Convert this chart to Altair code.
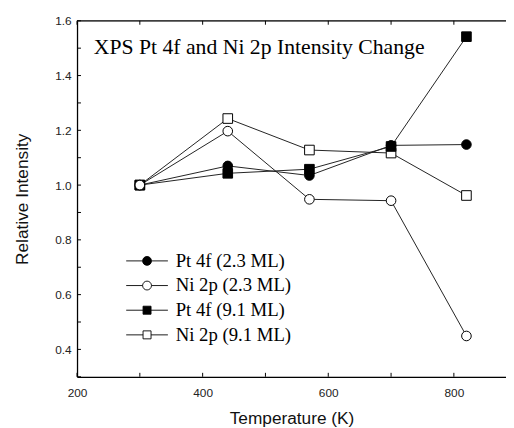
import altair as alt
import pandas as pd

# ---- data ----
temps = [300, 440, 570, 700, 820]
series_names = ["Pt 4f (2.3 ML)", "Ni 2p (2.3 ML)", "Pt 4f (9.1 ML)", "Ni 2p (9.1 ML)"]
pt_23 = [1.0, 1.070, 1.035, 1.145, 1.148]
ni_23 = [1.0, 1.197, 0.948, 0.943, 0.449]
pt_91 = [1.0, 1.043, 1.058, 1.141, 1.542]
ni_91 = [1.0, 1.243, 1.128, 1.117, 0.962]

x_ticks_labeled = [200, 400, 600, 800]
x_ticks_all = [200, 300, 400, 500, 600, 700, 800]
y_ticks_labeled = [0.4, 0.6, 0.8, 1.0, 1.2, 1.4, 1.6]
y_ticks_all = [0.3, 0.4, 0.5, 0.6, 0.7, 0.8, 0.9, 1.0, 1.1, 1.2, 1.3, 1.4, 1.5, 1.6]

values_by_series = {
    series_names[3]: ni_91,
    series_names[2]: pt_91,
    series_names[0]: pt_23,
    series_names[1]: ni_23,
}
rows = []
for name, vals in values_by_series.items():
    for t, v in zip(temps, vals):
        rows.append({"series": name, "temp": t, "val": v})
df = pd.DataFrame(rows)
xt = pd.DataFrame({"temp": x_ticks_all})
yt = pd.DataFrame({"val": y_ticks_all})
one = pd.DataFrame({"k": [0]})

W, H = 435, 361
XDOM = [200, 883]
YDOM = [0.3, 1.6]
SANS = "Liberation Sans"
SERIF = "Liberation Serif"
TICK = 4

xs = alt.Scale(domain=XDOM, nice=False, zero=False)
ys = alt.Scale(domain=YDOM, nice=False, zero=False)

x_axis = alt.Axis(
    orient="bottom", values=x_ticks_labeled, format="d", ticks=False, grid=False,
    domainColor="black", domainWidth=1.3, labelFlush=False,
    labelFont=SANS, labelFontSize=12, labelColor="#222222", labelPadding=11,
    title="Temperature (K)", titleFont=SANS, titleFontSize=17.5,
    titleFontWeight="normal", titleColor="#111111", titlePadding=11)
y_axis = alt.Axis(
    orient="left", values=y_ticks_labeled, format=".1f", ticks=False, grid=False,
    domainColor="black", domainWidth=1.3, labelFlush=False,
    labelFont=SANS, labelFontSize=12, labelColor="#222222", labelPadding=6,
    title="Relative Intensity", titleFont=SANS, titleFontSize=17.5,
    titleFontWeight="normal", titleColor="#111111", titlePadding=24)


def X():
    return alt.X("temp:Q", scale=xs, axis=x_axis)


def Y():
    return alt.Y("val:Q", scale=ys, axis=y_axis)


base = alt.Chart(df)

lines = base.mark_line(color="#222222", strokeWidth=1).encode(
    x=X(), y=Y(), detail="series:N")

# inward tick marks and the top frame line
ticks_bottom = alt.Chart(xt).mark_rule(color="black", strokeWidth=1).encode(
    x=X(), y=alt.value(H), y2=alt.value(H - TICK))
ticks_top = alt.Chart(xt).mark_rule(color="black", strokeWidth=1).encode(
    x=X(), y=alt.value(0), y2=alt.value(TICK))
ticks_left = alt.Chart(yt).mark_rule(color="black", strokeWidth=1).encode(
    y=Y(), x=alt.value(0), x2=alt.value(TICK))
top_line = alt.Chart(one).mark_rule(color="black", strokeWidth=1.3).encode(
    x=alt.value(0), x2=alt.value(W), y=alt.value(0))

shape_sc = alt.Scale(domain=series_names, range=["circle", "circle", "square", "square"])
fill_sc = alt.Scale(domain=series_names, range=["black", "white", "black", "white"])

points = base.mark_point(filled=True, size=95, stroke="black", strokeWidth=1, opacity=1).encode(
    x=X(), y=Y(),
    shape=alt.Shape("series:N", scale=shape_sc, legend=None),
    fill=alt.Fill("series:N", scale=fill_sc, legend=None),
)

circ_path = "M-4.7,0H-1M1,0H4.7M-1,0A1,1,0,1,0,1,0A1,1,0,1,0,-1,0Z"
sq_path = "M-4.7,0H-0.9M0.9,0H4.7M-0.9,-0.9H0.9V0.9H-0.9Z"
leg = alt.Legend(orient="none", legendX=61.5, legendY=234, title=None,
                 labelFont=SERIF, labelFontSize=19, labelColor="black",
                 labelOffset=19.5, symbolSize=81, symbolStrokeWidth=0.9,
                 rowPadding=5, padding=0, labelLimit=300)

# legend-only layer (its data is filtered out, so it draws no marks)
legend_layer = base.transform_filter("false").mark_point(
    filled=True, size=81, strokeWidth=1, opacity=1).encode(
    x=X(), y=Y(),
    shape=alt.Shape("series:N", scale=alt.Scale(domain=series_names,
                    range=[circ_path, circ_path, sq_path, sq_path]), legend=leg),
    fill=alt.Fill("series:N", scale=alt.Scale(domain=series_names,
                  range=["black", "white", "black", "white"]), legend=leg),
    stroke=alt.Stroke("series:N", scale=alt.Scale(domain=series_names,
                      range=["black", "black", "black", "black"]), legend=leg),
)

chart = alt.layer(
    lines, ticks_bottom, ticks_top, ticks_left, top_line, points, legend_layer
).resolve_scale(
    shape="independent", fill="independent", stroke="independent"
).properties(
    width=W, height=H,
    title=alt.TitleParams(
        text="XPS Pt 4f and Ni 2p Intensity Change", anchor="start", frame="group",
        orient="top", offset=-62, baseline="alphabetic", dx=17,
        font=SERIF, fontSize=22, fontWeight="normal", color="black"),
    autosize=alt.AutoSizeParams(type="none"),
    padding={"left": 70, "top": 10, "right": 0, "bottom": 50},
).configure_view(stroke=None).configure(background="white")

chart.save("out.html", embed_options={"renderer": "svg", "actions": False})
